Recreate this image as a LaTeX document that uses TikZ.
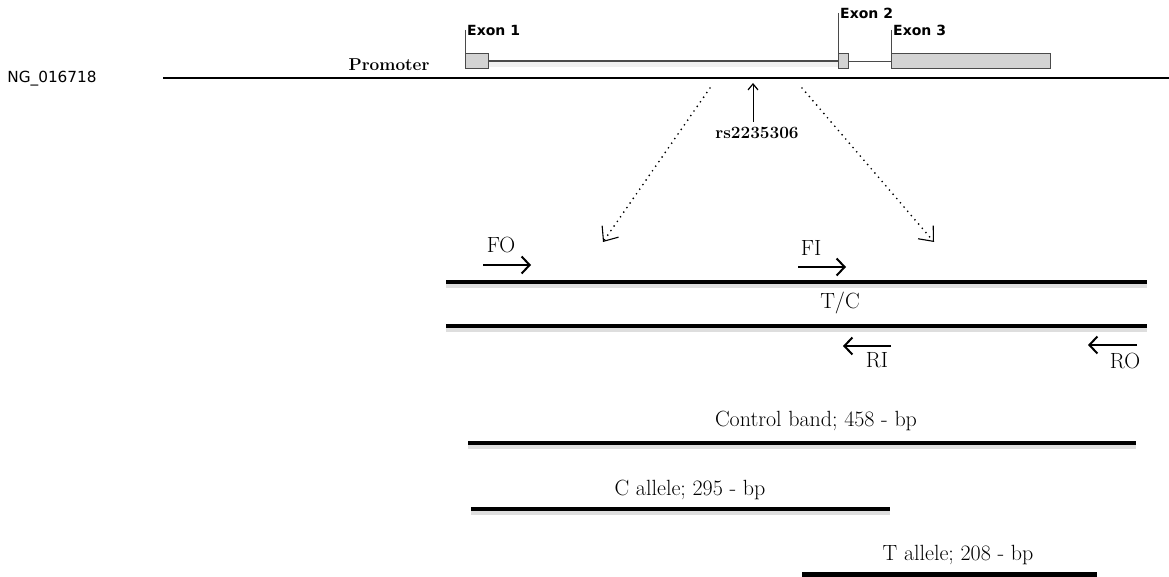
\documentclass[tikz,border=0pt]{standalone}
\usepackage{fontspec}
\newfontfamily\sansdv{DejaVu Sans}
\usetikzlibrary{arrows.meta}
\definecolor{exongray}{HTML}{D3D3D3}
\definecolor{edgegray}{HTML}{4A4A4A}
\tikzset{
  exonbox/.style={draw=edgegray, fill=exongray, line width=1.2pt},
  exontick/.style={draw=edgegray, line width=1pt},
  exonlabel/.style={anchor=west, inner sep=0pt, font=\sansdv\bfseries\fontsize{14}{15}\selectfont},
  intron/.style={draw=edgegray, line width=1.1pt},
  mainline/.style={line width=2.4pt},
  shadowed/.style={preaction={draw=black!13, line width=5pt, transform canvas={yshift=-3.5pt}}},
  strand/.style={line width=4pt, shadowed},
  band/.style={line width=4.2pt, shadowed},
  primer/.style={line width=2pt, -{Straight Barb[length=8pt,width=17pt,line width=2pt]}},
  primerlabel/.style={inner sep=0pt, font=\fontsize{22}{24}\selectfont},
  bandlabel/.style={inner sep=0pt, font=\fontsize{22}{24}\selectfont},
  dotarrow/.style={line width=1.9pt, dash pattern=on 0pt off 5.6pt, line cap=round,
     -{Straight Barb[length=12pt,width=20pt,line width=1.1pt]}},
  snparrow/.style={line width=1pt, -{Straight Barb[length=6pt,width=10pt,line width=1.2pt]}},
}
\begin{document}
\begin{tikzpicture}[x=1pt,y=-1pt]
\useasboundingbox (0,0) rectangle (1169,577);

% reference sequence
\node[inner sep=0pt, font=\sansdv\fontsize{15.3}{16}\selectfont] (ng) at (52,79) {NG\_016718};
\coordinate (mlA) at (163,78);
\coordinate (mlB) at (1169,78);
\draw[mainline] (mlA) -- (mlB);
\node[inner sep=0pt, anchor=base, font=\bfseries\fontsize{17.2}{18}\selectfont] (prom) at (389,71) {Promoter};

% gene structure
\fill[black!6] (488,61) rectangle (838,67);
\draw[intron] (488,61) -- (838,61);
\draw[intron] (848,61.5) -- (891,61.5);
\node[exonbox, minimum width=23pt, minimum height=15pt, inner sep=0pt, anchor=north west] (ex1) at (465,53) {};
\node[exonbox, minimum width=10pt, minimum height=15pt, inner sep=0pt, anchor=north west] (ex2) at (838,53) {};
\node[exonbox, minimum width=159pt, minimum height=15pt, inner sep=0pt, anchor=north west] (ex3) at (891,53) {};
\coordinate (t1) at (465,30);
\coordinate (t2) at (838,13);
\coordinate (t3) at (891,30);
\draw[exontick] (t1) -- (ex1.north west);
\draw[exontick] (t2) -- (ex2.north west);
\draw[exontick] (t3) -- (ex3.north west);
\node[exonlabel] (lex1) at (467,30.5) {Exon 1};
\node[exonlabel] (lex2) at (840,13.5) {Exon 2};
\node[exonlabel] (lex3) at (893,30.5) {Exon 3};

% SNP
\node[inner sep=0pt, font=\bfseries\fontsize{17.2}{18}\selectfont] (rs) at (757,133) {rs2235306};
\coordinate (snptip) at (753,83);
\draw[snparrow] (753,122) -- (snptip);

% zoom arrows
\coordinate (zlA) at (710,88);
\coordinate (zlB) at (603,242);
\coordinate (zrA) at (802,88);
\coordinate (zrB) at (934,242);
\draw[dotarrow] (zlA) -- (zlB);
\draw[dotarrow] (zrA) -- (zrB);

% strands
\coordinate (s1A) at (446,282);
\coordinate (s1B) at (1147,282);
\coordinate (s2A) at (446,326);
\coordinate (s2B) at (1147,326);
\draw[strand] (s1A) -- (s1B);
\draw[strand] (s2A) -- (s2B);
\node[primerlabel] (tc) at (840,303) {T/C};

% primers
\coordinate (foA) at (483,265); \coordinate (foB) at (531,265);
\coordinate (fiA) at (798,267); \coordinate (fiB) at (846,267);
\coordinate (riA) at (891,346); \coordinate (riB) at (843,346);
\coordinate (roA) at (1137,345); \coordinate (roB) at (1088,345);
\draw[primer] (foA) -- (foB);
\draw[primer] (fiA) -- (fiB);
\draw[primer] (riA) -- (riB);
\draw[primer] (roA) -- (roB);
\node[primerlabel] (fo) at (501,245) {FO};
\node[primerlabel] (fi) at (811,248) {FI};
\node[primerlabel] (ri) at (877,360) {RI};
\node[primerlabel] (ro) at (1125,361) {RO};

% products
\coordinate (cbA) at (468,443); \coordinate (cbB) at (1136,443);
\coordinate (caA) at (471,509); \coordinate (caB) at (890,509);
\coordinate (taA) at (802,574.5); \coordinate (taB) at (1097,574.5);
\draw[band] (cbA) -- (cbB);
\draw[band] (caA) -- (caB);
\draw[band] (taA) -- (taB);
\node[bandlabel] (cbl) at (816,421) {Control band; 458 - bp};
\node[bandlabel] (cal) at (690,490) {C allele; 295 - bp};
\node[bandlabel] (tal) at (958,555) {T allele; 208 - bp};
\end{tikzpicture}
\end{document}
